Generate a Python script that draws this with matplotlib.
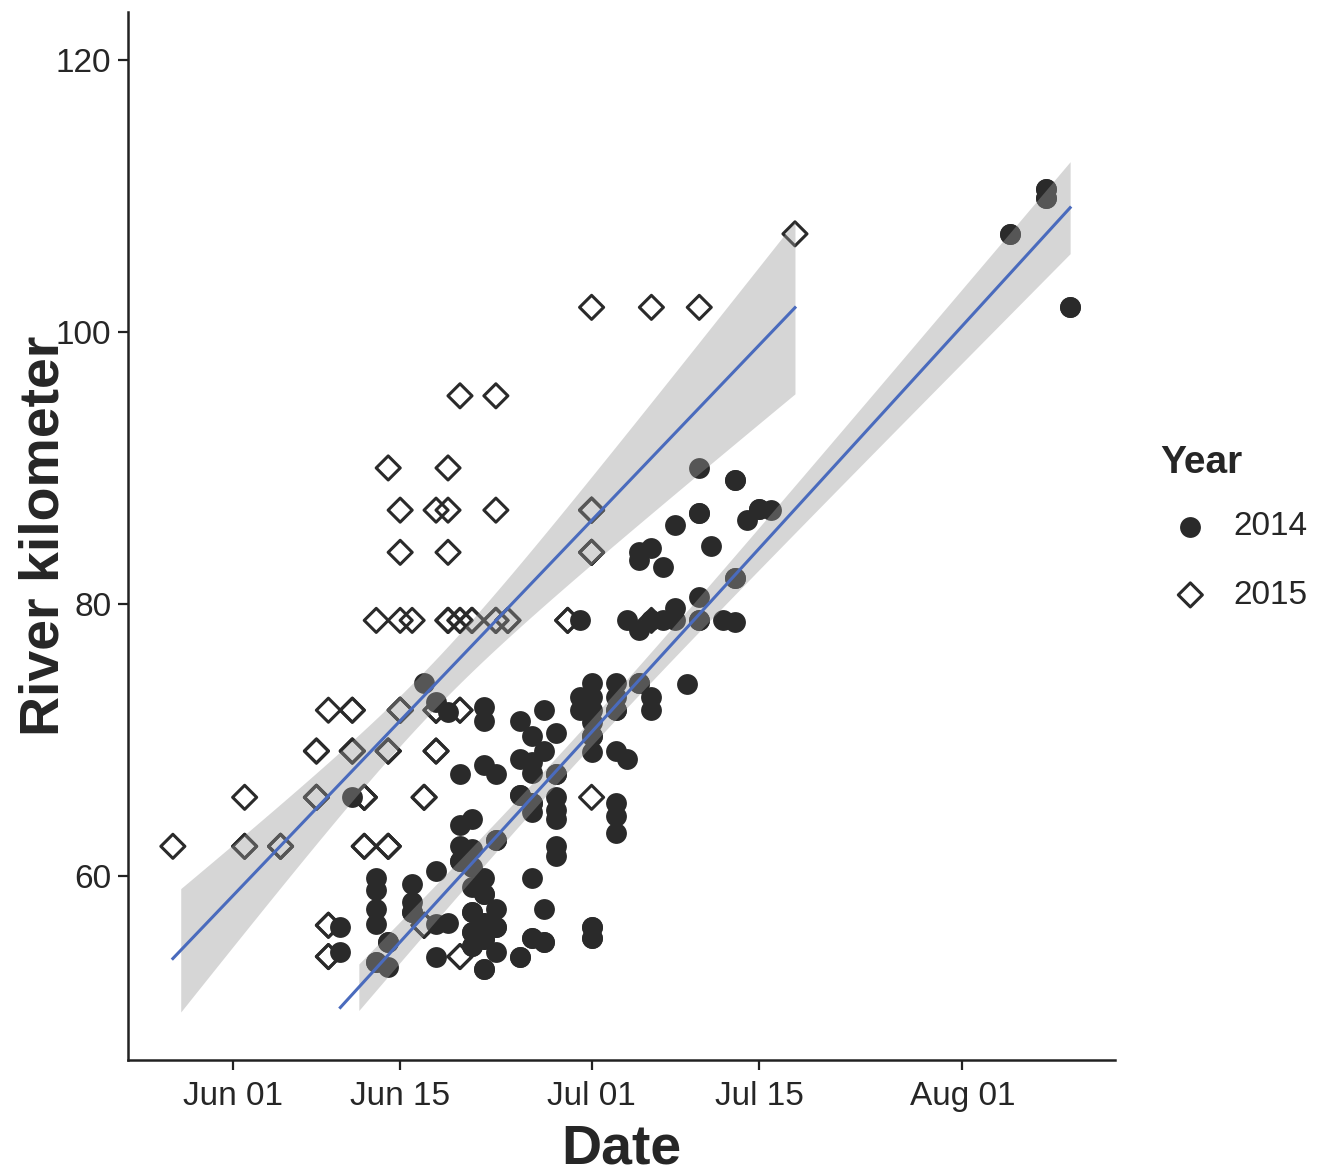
import numpy as np
import pandas as pd
import matplotlib
matplotlib.use('Agg')
import matplotlib.pyplot as plt
import matplotlib.dates as mdates

plt.rcParams['font.family'] = ['Liberation Sans', 'DejaVu Sans']

# both seasons share one calendar axis, so every date gets the same dummy year
base_year = "2014"

# detections per date (month-day -> river km); repeats are overplotted fish
dates_2014 = ["06-10", "06-11", "06-13", "06-14", "06-16", "06-17", "06-18", "06-19",
              "06-20", "06-21", "06-22", "06-23", "06-25", "06-26", "06-27", "06-28",
              "06-30", "07-01", "07-03", "07-04", "07-05", "07-06", "07-07", "07-08",
              "07-09", "07-10", "07-11", "07-12", "07-13", "07-14", "07-15", "07-16",
              "08-05", "08-08", "08-10"]
km_2014 = [[56.3, 54.4],
           [65.8],
           [59.9, 59.0, 57.6, 56.5, 53.7, 53.7],
           [55.2, 55.2, 53.3],
           [59.4, 58.1, 57.4, 57.4],
           [74.2],
           [72.8, 60.4, 56.5, 54.1],
           [72.1, 56.6],
           [67.5, 63.8, 62.2, 61.1, 61.1],
           [64.2, 62.0, 60.7, 59.2, 57.4, 57.4, 55.9, 55.9, 54.9, 54.9],
           [72.4, 71.4, 68.2, 59.9, 58.7, 58.7, 56.6, 56.6, 55.4, 55.4, 53.2, 53.2],
           [67.5, 62.7, 62.7, 57.6, 56.3, 56.3, 54.4],
           [71.4, 68.6, 66.0, 66.0, 54.1, 54.1],
           [70.3, 68.4, 67.6, 65.4, 65.4, 64.7, 59.9, 55.5, 55.5],
           [72.2, 69.2, 57.6, 55.2, 55.2],
           [70.5, 67.5, 67.5, 65.8, 64.9, 64.2, 62.2, 61.5],
           [78.8, 73.2, 72.2],
           [74.2, 73.2, 72.2, 71.3, 70.3, 70.3, 69.1, 56.3, 56.3, 55.5, 55.5],
           [74.2, 73.2, 72.2, 72.2, 69.2, 65.4, 64.4, 63.2],
           [78.8, 68.6],
           [83.8, 83.2, 78.1, 74.2, 74.2],
           [84.1, 78.8, 73.2, 72.2],
           [82.7, 78.8],
           [85.8, 79.7, 78.8],
           [74.1],
           [90.0, 86.7, 86.7, 80.5, 78.8, 78.8],
           [84.3],
           [78.8],
           [89.1, 89.1, 81.9, 81.9, 78.7],
           [86.2],
           [87.0, 87.0],
           [86.9],
           [107.2, 107.2],
           [110.5, 110.5, 109.8, 109.8],
           [101.8, 101.8]]

dates_2015 = ["05-27", "06-02", "06-05", "06-08", "06-09", "06-11", "06-12", "06-13",
              "06-14", "06-15", "06-16", "06-17", "06-18", "06-19", "06-20", "06-21",
              "06-23", "06-24", "06-29", "07-01", "07-06", "07-10", "07-18"]
km_2015 = [[62.2],
           [65.8, 62.2, 62.2],
           [62.2, 62.2, 62.2],
           [69.2, 69.2, 65.8, 65.8, 65.8],
           [72.2, 56.4, 56.4, 54.1, 54.1],
           [72.2, 72.2, 69.2, 69.2, 69.2],
           [65.8, 65.8, 65.8, 62.2, 62.2],
           [78.8],
           [90.0, 69.2, 69.2, 69.2, 62.2, 62.2, 62.2],
           [86.9, 83.8, 78.8, 72.2, 72.2, 72.2],
           [78.8],
           [65.8, 65.8, 56.4, 56.4, 56.4],
           [86.9, 72.2, 72.2, 72.2, 69.2, 69.2],
           [90.0, 86.9, 83.8, 78.8, 78.8, 78.8],
           [95.3, 78.8, 78.8, 72.2, 72.2, 54.1, 54.1],
           [78.8, 78.8, 78.8],
           [95.3, 86.9, 78.8, 78.8, 78.8],
           [78.8, 78.8, 78.8],
           [78.8, 78.8],
           [101.8, 86.9, 86.9, 86.9, 83.8, 83.8, 83.8, 65.8],
           [101.8, 78.8],
           [101.8],
           [107.2]]

y_limits = (50, 120)
y_breaks = [60, 80, 100, 120]
x_breaks = ["06-01", "06-15", "07-01", "07-15", "08-01"]


def to_num(md):
    return mdates.date2num(pd.to_datetime([base_year + "-" + d for d in md]))


def long_form(dates, km):
    df = pd.DataFrame({'date': dates, 'km': km}).explode('km')
    return to_num(df['date']), df['km'].astype(float).to_numpy()


def t975(dof):
    # Cornish-Fisher approximation of the 97.5% t quantile
    z = 1.959964
    return (z + (z**3 + z) / (4 * dof)
            + (5 * z**5 + 16 * z**3 + 3 * z) / (96 * dof**2)
            + (3 * z**7 + 19 * z**5 + 17 * z**3 - 15 * z) / (384 * dof**3))


def lm_smooth(x, y, n=80):
    X = np.column_stack([np.ones_like(x), x - x.mean()])
    beta = np.linalg.lstsq(X, y, rcond=None)[0]
    resid = y - X @ beta
    dof = len(x) - 2
    cov = (resid @ resid / dof) * np.linalg.inv(X.T @ X)
    xg = np.linspace(x.min(), x.max(), n)
    G = np.column_stack([np.ones_like(xg), xg - x.mean()])
    fit = G @ beta
    se = np.sqrt(np.sum((G @ cov) * G, axis=1))
    t = t975(dof)
    return xg, fit, fit - t * se, fit + t * se


x14, y14 = long_form(dates_2014, km_2014)
x15, y15 = long_form(dates_2015, km_2015)

fig = plt.figure(figsize=(13.22, 11.75), dpi=100)
ax = fig.add_axes([128 / 1322, 1 - 1060 / 1175, (1115 - 128) / 1322, (1060 - 12) / 1175])

pt_col = '#2a2a2a'
h14 = ax.scatter(x14, y14, s=225, marker='o', color=pt_col, linewidths=0, zorder=2)
h15 = ax.scatter(x15, y15, s=150, marker='D', facecolors='none', edgecolors=pt_col,
                 linewidths=2.2, zorder=2)

for xs, ys in [(x15, y15), (x14, y14)]:
    xg, fit, lo, hi = lm_smooth(xs, ys)
    # rows falling outside the y limits are dropped, as ggplot does
    keep = (lo >= y_limits[0]) & (hi <= y_limits[1])
    ax.fill_between(xg[keep], lo[keep], hi[keep], color='#999999', alpha=0.4,
                    linewidth=0, zorder=3)
    keep_line = (fit >= y_limits[0]) & (fit <= y_limits[1])
    ax.plot(xg[keep_line], fit[keep_line], color='#4a6bbd', linewidth=2.2, zorder=4)

all_x = np.concatenate([x14, x15])
span = all_x.max() - all_x.min()
ax.set_xlim(all_x.min() - 0.05 * span, all_x.max() + 0.05 * span)
yspan = y_limits[1] - y_limits[0]
ax.set_ylim(y_limits[0] - 0.05 * yspan, y_limits[1] + 0.05 * yspan)

ax.set_xticks(to_num(x_breaks))
ax.xaxis.set_major_formatter(mdates.DateFormatter('%b %d'))
ax.set_yticks(y_breaks)

for side in ['top', 'right']:
    ax.spines[side].set_visible(False)
for side in ['left', 'bottom']:
    ax.spines[side].set_linewidth(1.8)
    ax.spines[side].set_color('#222222')
ax.tick_params(axis='both', length=7, width=1.6, color='#222222',
               labelsize=24, labelcolor='#262626', pad=5)
ax.tick_params(axis='x', pad=8)

ax.set_xlabel('Date', fontsize=40, fontweight='bold', color='#262626')
ax.set_ylabel('River kilometer', fontsize=40, fontweight='bold', color='#262626')
ax.xaxis.set_label_coords(0.5, -0.061)
ax.yaxis.set_label_coords(-0.058, 0.5)

# legend title set apart so its gap to the keys can follow the reference
fig.text(1160 / 1322, 1 - 463 / 1175, 'Year', fontsize=28, fontweight='bold',
         color='#262626', ha='left', va='center')
leg = fig.legend([h14, h15], ['2014', '2015'], loc='center left',
                 bbox_to_anchor=(1157 / 1322, 1 - 561 / 1175), frameon=False,
                 fontsize=24, labelspacing=1.12, handletextpad=0.3,
                 borderpad=0, borderaxespad=0)
for txt in leg.get_texts():
    txt.set_color('#262626')

fig.savefig('out.png', dpi=100)
